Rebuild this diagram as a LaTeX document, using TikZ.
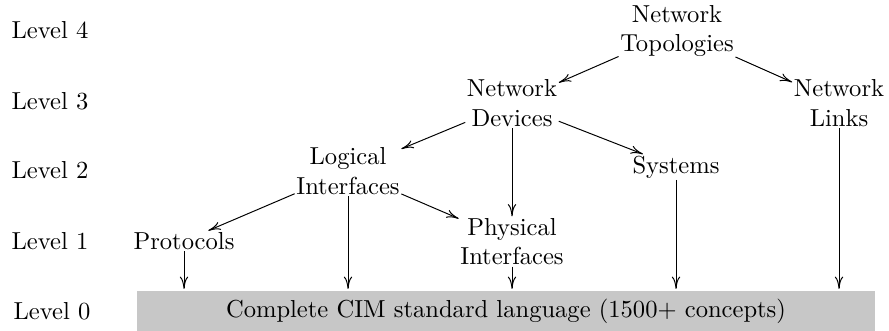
\documentclass[tikz,border=0pt]{standalone}
\usepackage{tikz}
\usetikzlibrary{arrows.meta,positioning}
\tikzset{
  cls/.style={align=center,inner sep=0.5pt},
  lvl/.style={inner sep=0pt},
  arr/.style={-{To[length=5pt,width=3.4pt]}},
  base/.style={fill=black!22,minimum width=300pt,minimum height=16pt,inner sep=0pt,outer sep=1pt},
}

\begin{document}
\begin{tikzpicture}[x=0.407pt,y=-0.407pt]
 \useasboundingbox (0,0) rectangle (889,331);
 % level labels
 \node[lvl] (l4) at (50,30){Level 4};
 \node[lvl] (l3) at (50,101){Level 3};
 \node[lvl] (l2) at (50,170){Level 2};
 \node[lvl] (l1) at (50,241){Level 1};
 \node[lvl] (l0) at (52,311){Level 0};
 % class hierarchy
 \node[cls] (topo) at (677,31){Network\\Topologies};
 \node[cls] (dev) at (512,103){Network\\Devices};
 \node[cls] (links) at (839,103){Network\\Links};
 \node[cls] (logic) at (348,171){Logical\\Interfaces};
 \node[cls] (sys) at (676,167){Systems};
 \node[cls] (prot) at (184,241){Protocols};
 \node[cls] (phys) at (512,241.5){Physical\\Interfaces};
 \node[base] (cim) at (506,311){Complete CIM standard language (1500+ concepts)};
 % edges
 \draw[arr] (topo) -- (dev);
 \draw[arr] (topo) -- (links);
 \draw[arr] (dev) -- (logic);
 \draw[arr] (dev) -- (sys);
 \draw[arr] (dev) -- (phys);
 \draw[arr] (logic) -- (prot);
 \draw[arr] (logic) -- (phys);
 \foreach \n in {prot,logic,phys,sys,links}
  \draw[arr] (\n) -- (\n |- cim.north);
\end{tikzpicture}
\end{document}
